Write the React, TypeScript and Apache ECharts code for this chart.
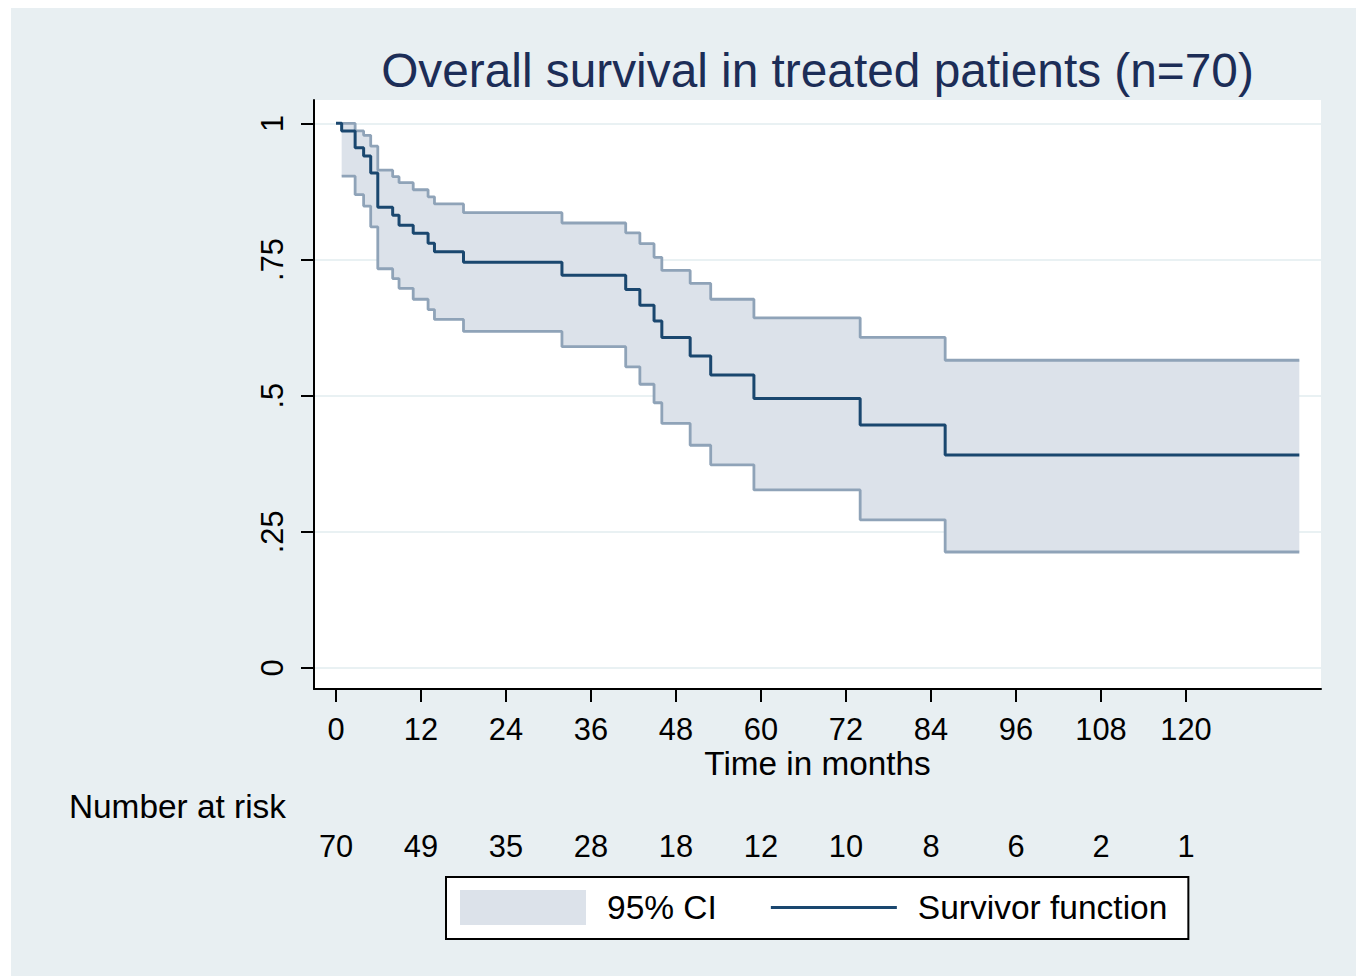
import React, { useEffect, useRef } from 'react';
import * as echarts from 'echarts';

// ---- data ----
const titleText = 'Overall survival in treated patients (n=70)';
const xAxisTitle = 'Time in months';
const riskTitle = 'Number at risk';
const timeTicks = [0, 12, 24, 36, 48, 60, 72, 84, 96, 108, 120];
const atRisk = [70, 49, 35, 28, 18, 12, 10, 8, 6, 2, 1];
const yTicks = [0, 0.25, 0.5, 0.75, 1];
const yTickLabels = ['0', '.25', '.5', '.75', '1'];

// Kaplan-Meier survivor function (step at each time)
const survTimes = [0, 0.8, 2.7, 3.9, 4.9, 5.9, 8.0, 8.9, 10.9, 13.0, 13.9, 18.0, 31.9, 40.9, 42.9, 44.9, 46.0, 50.0, 52.9, 59.0, 74.0, 86.0, 136.0];
const survival = [1, 0.986, 0.955, 0.94, 0.909, 0.846, 0.831, 0.813, 0.798, 0.78, 0.764, 0.745, 0.721, 0.695, 0.666, 0.637, 0.607, 0.573, 0.538, 0.495, 0.446, 0.391, 0.391];

// 95% confidence band (starts at the first event)
const ciTimes = [0.8, 2.7, 3.9, 4.9, 5.9, 8.0, 8.9, 10.9, 13.0, 13.9, 18.0, 31.9, 40.9, 42.9, 44.9, 46.0, 50.0, 52.9, 59.0, 74.0, 86.0, 136.0];
const ciUpper = [1.0, 0.986, 0.978, 0.958, 0.914, 0.902, 0.891, 0.878, 0.865, 0.852, 0.836, 0.817, 0.799, 0.779, 0.754, 0.73, 0.706, 0.677, 0.643, 0.607, 0.565, 0.565];
const ciLower = [0.903, 0.869, 0.848, 0.81, 0.733, 0.715, 0.697, 0.677, 0.658, 0.64, 0.618, 0.59, 0.553, 0.521, 0.487, 0.449, 0.409, 0.373, 0.327, 0.272, 0.213, 0.213];

const FONT = '"Liberation Sans", Arial, sans-serif';
const NAVY = '#1a476f';
const CI_LINE = '#8fa3b8';
const BAND = '#dce2ea';
const PANEL = '#e8eff2';
const GRIDLINE = '#e9f1f3';

const X_MIN = -3.106;
const X_MAX = 139.06;
const Y_MIN = -0.0385;
const Y_MAX = 1.0428;

export default function App() {
  const ref = useRef<HTMLDivElement>(null);

  useEffect(() => {
    if (!ref.current) return;
    const chart = echarts.init(ref.current, null, { renderer: 'svg' });

    const option: any = {
      animation: false,
      backgroundColor: 'transparent',
      textStyle: { fontFamily: FONT },
      graphic: {
        elements: [
          {
            type: 'rect',
            z: -10,
            silent: true,
            shape: { x: 11, y: 8, width: 1345, height: 968 },
            style: { fill: PANEL },
          },
          {
            type: 'text',
            silent: true,
            x: 286,
            y: 806,
            style: {
              text: riskTitle,
              fontFamily: FONT,
              fontSize: 33.4,
              fill: '#000',
              align: 'right',
              verticalAlign: 'middle',
            },
          },
        ],
      },
      title: {
        text: titleText,
        left: 812.5,
        top: 41,
        textAlign: 'center',
        textStyle: { fontFamily: FONT, fontSize: 47.8, fontWeight: 'normal', color: '#1c2d57' },
      },
      legend: {
        left: 446,
        top: 877,
        orient: 'horizontal',
        selectedMode: false,
        backgroundColor: '#fff',
        borderColor: '#000',
        borderWidth: 2,
        borderRadius: 0,
        padding: [13, 21, 14, 14],
        itemWidth: 126,
        itemHeight: 35,
        itemGap: 54,
        symbolKeepAspect: true,
        textStyle: { fontFamily: FONT, fontSize: 33.5, color: '#000', padding: [0, 0, 0, 16] },
        data: [
          { name: '95% CI', icon: 'rect', itemStyle: { color: BAND, borderWidth: 0 } },
          {
            name: 'Survivor function',
            icon: 'path://M0,0H126V3H0Z',
            itemStyle: { color: NAVY, borderWidth: 0 },
          },
        ],
      },
      grid: {
        left: 314,
        right: 35,
        top: 100,
        bottom: 289,
        show: true,
        backgroundColor: '#fff',
        borderWidth: 0,
        containLabel: false,
        outerBoundsMode: 'none',
      },
      xAxis: [
        {
          type: 'value',
          min: X_MIN,
          max: X_MAX,
          position: 'bottom',
          name: xAxisTitle,
          nameLocation: 'middle',
          nameGap: 57.5,
          nameMoveOverlap: false,
          nameTextStyle: { fontFamily: FONT, fontSize: 33.3, color: '#000' },
          axisLine: { show: true, onZero: false, lineStyle: { color: '#000', width: 2 } },
          axisTick: { show: true, length: 13, lineStyle: { color: '#000', width: 2 }, customValues: timeTicks },
          axisLabel: {
            show: true,
            margin: 24.5,
            fontFamily: FONT,
            fontSize: 30.8,
            color: '#000',
            customValues: timeTicks,
            formatter: (v: number) => String(v),
          },
          splitLine: { show: false },
        },
        {
          type: 'value',
          min: X_MIN,
          max: X_MAX,
          position: 'bottom',
          offset: 117,
          axisLine: { show: false },
          axisTick: { show: false, customValues: timeTicks },
          axisLabel: {
            show: true,
            margin: 25,
            fontFamily: FONT,
            fontSize: 30.8,
            color: '#000',
            customValues: timeTicks,
            formatter: (v: number) => {
              const i = timeTicks.indexOf(Math.round(v));
              return i >= 0 ? String(atRisk[i]) : '';
            },
          },
          splitLine: { show: false },
        },
      ],
      yAxis: {
        type: 'value',
        min: Y_MIN,
        max: Y_MAX,
        axisLine: { show: true, onZero: false, lineStyle: { color: '#000', width: 2 } },
        axisTick: { show: true, length: 13, lineStyle: { color: '#000', width: 2 }, customValues: yTicks },
        axisLabel: {
          show: true,
          rotate: 90,
          margin: 26,
          fontFamily: FONT,
          fontSize: 30.8,
          color: '#000',
          customValues: yTicks,
          formatter: (v: number) => {
            const i = yTicks.findIndex((t) => Math.abs(t - v) < 1e-6);
            return i >= 0 ? yTickLabels[i] : '';
          },
        },
        splitLine: { show: true, lineStyle: { color: GRIDLINE, width: 2 } },
      },
      series: [
        {
          name: '95% CI',
          type: 'custom',
          xAxisIndex: 0,
          yAxisIndex: 0,
          z: 1,
          silent: true,
          itemStyle: { color: BAND },
          data: [[ciTimes[0], ciUpper[0]]],
          renderItem: (_params: any, api: any) => {
            const pts: number[][] = [];
            const n = ciTimes.length;
            for (let i = 0; i < n; i++) {
              pts.push(api.coord([ciTimes[i], ciUpper[i]]));
              if (i < n - 1) pts.push(api.coord([ciTimes[i + 1], ciUpper[i]]));
            }
            for (let i = n - 1; i >= 0; i--) {
              if (i < n - 1) pts.push(api.coord([ciTimes[i + 1], ciLower[i]]));
              pts.push(api.coord([ciTimes[i], ciLower[i]]));
            }
            return {
              type: 'polygon',
              shape: { points: pts },
              style: { fill: BAND, stroke: null, lineWidth: 0 },
            };
          },
        },
        {
          name: 'ci-upper',
          type: 'line',
          xAxisIndex: 0,
          step: 'end',
          symbol: 'none',
          showSymbol: false,
          z: 2,
          lineStyle: { color: CI_LINE, width: 2.8 },
          itemStyle: { color: CI_LINE },
          data: ciTimes.map((t, i) => [t, ciUpper[i]]),
        },
        {
          name: 'ci-lower',
          type: 'line',
          xAxisIndex: 0,
          step: 'end',
          symbol: 'none',
          showSymbol: false,
          z: 2,
          lineStyle: { color: CI_LINE, width: 2.8 },
          itemStyle: { color: CI_LINE },
          data: ciTimes.map((t, i) => [t, ciLower[i]]),
        },
        {
          name: 'Survivor function',
          type: 'line',
          xAxisIndex: 0,
          step: 'end',
          symbol: 'none',
          showSymbol: false,
          z: 3,
          lineStyle: { color: NAVY, width: 3 },
          itemStyle: { color: NAVY },
          data: survTimes.map((t, i) => [t, survival[i]]),
        },
      ],
    };

    chart.setOption(option);
    return () => chart.dispose();
  }, []);

  return (
    <div
      ref={ref}
      style={{ position: 'absolute', left: 0, top: 0, width: 1356, height: 978, background: '#fff' }}
    />
  );
}
